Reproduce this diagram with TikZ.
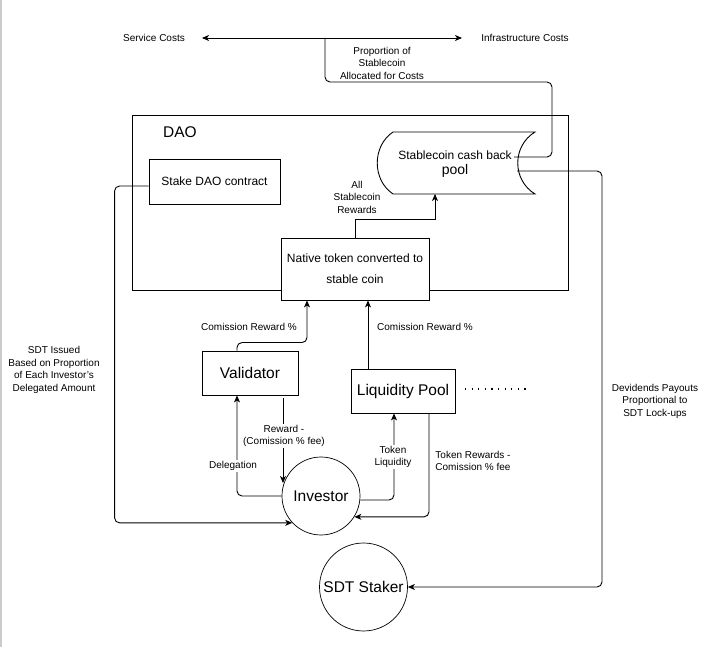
\documentclass[tikz,border=0pt]{standalone}
\usepackage{fontspec}
\setmainfont{Liberation Sans}
\usetikzlibrary{arrows.meta,calc}
\begin{document}
\begin{tikzpicture}[x=1pt,y=-1pt,
  line width=0.9pt,
  small/.style={font=\fontsize{10}{12.5}\selectfont, align=center, inner sep=1pt},
  midtext/.style={font=\fontsize{12}{14}\selectfont, align=center},
  bigtext/.style={font=\fontsize{15.5}{18}\selectfont},
  box/.style={draw, fill=white, inner sep=0pt, line width=0.9pt},
  circ/.style={draw, circle, fill=white, inner sep=0pt, line width=0.7pt},
  conn/.style={line width=0.9pt, rounded corners=5pt},
  tip/.style={-{Stealth[length=7pt,width=6pt,inset=2pt]}},
  lbl/.style={small, fill=white}
]
\useasboundingbox (0,0) rectangle (724,647);
\fill[white] (0,0) rectangle (724,647);
\draw[gray!40, line width=1.5pt] (0.75,0) -- (0.75,647);

% top costs
\node[small] (svc) at (154,38) {Service Costs};
\node[small] (infra) at (525,38) {Infrastructure Costs};
\coordinate (cl) at (202,38);
\coordinate (cr) at (462,38);
\coordinate (cm) at (325,38);
\draw[{Stealth[length=7pt,width=6pt,inset=2pt]}-{Stealth[length=7pt,width=6pt,inset=2pt]}] (cl) -- (cr);
\node[small] (prop) at (382,63) {Proportion of\\Stablecoin\\Allocated for Costs};

% DAO container
\draw (132,115) rectangle (568,290);
\node[bigtext] (daolbl) at (180,132) {DAO};
\node[box, minimum width=131pt, minimum height=45pt, midtext] (stake) at (214.5,181.5) {Stake DAO contract};

% stablecoin pool (data storage shape)
\draw[fill=white] (393,132) -- (535,132)
  .. controls (512,146) and (512,180) .. (535,194)
  -- (393,194)
  .. controls (372,180) and (372,146) .. (393,132) -- cycle;
\node[align=center, inner sep=0pt] (pool) at (455,164)
  {\fontsize{12}{14}\selectfont Stablecoin cash back\\[3pt]\fontsize{14}{16}\selectfont pool};
\coordinate (poolcost) at (514,157);
\coordinate (pooldiv) at (517,171);
\coordinate (poolbot) at (435,194);

% native token box
\node[box, minimum width=148pt, minimum height=62pt, align=center,
  font=\fontsize{12}{21}\selectfont] (native) at (355,269) {Native token converted to\\stable coin};

% all stablecoin rewards
\draw[tip] (native.north) -- ++(0,-18) -| (poolbot);
\node[small] (allrew) at (357,197) {All\\Stablecoin\\Rewards};

% cost connector
\draw[conn] (poolcost) -- ++(38,0) -- ++(0,-75) -| (cm);

% validator, liquidity pool
\node[box, minimum width=96pt, minimum height=44pt, bigtext] (validator) at (250,373) {Validator};
\node[box, minimum width=104pt, minimum height=44pt, bigtext] (lp) at (403,391) {Liquidity Pool};
\coordinate (dotsa) at (465,389);
\coordinate (dotsb) at (528,389);
\draw[line width=1.3pt, dash pattern=on 1.2pt off 5.4pt] (dotsa) -- (dotsb);

% investor, staker
\node[circ, minimum size=78pt, bigtext] (investor) at (321,496) {Investor};
\node[circ, minimum size=88pt, bigtext] (staker) at (363.5,587) {SDT Staker};

% validator -> native
\draw[conn, tip] ([xshift=-13pt]validator.north) -- ++(0,-8) -| ([xshift=-48pt]native.south);
\node[small] (cr1) at (249,327) {Comission Reward \%};
% lp -> native
\draw[tip] ([xshift=-35pt]lp.north) -- ([xshift=13pt]native.south);
\node[small] (cr2) at (425,327) {Comission Reward \%};

% validator -> investor
\draw[tip] ([xshift=33pt,yshift=-3pt]validator.south) -- ([xshift=-38pt,yshift=13pt]investor.center);
\node[lbl] (rew) at (284,436) {Reward -\\(Comission \% fee)};

% investor -> validator (delegation)
\draw[conn, tip] (investor.west) -| ([xshift=-13pt]validator.south);
\node[lbl] (deleg) at (233,466) {Delegation};

% investor -> lp
\draw[conn, tip] ([yshift=-4pt]investor.east) -| ([xshift=-9pt]lp.south);
\node[lbl] (tokliq) at (393,457) {Token\\Liquidity};

% lp -> investor
\draw[conn, tip] ([xshift=26pt]lp.south) |- (investor.-32.6);
\node[small, anchor=west, align=left] (tokrew) at (434,461) {Token Rewards -\\Comission \% fee};

% stake -> investor
\draw[conn, tip] ([yshift=-4.5pt]stake.west) -- ++(-34,0) |- (investor.223);
\node[small] (sdtiss) at (54,370) {SDT Issued\\Based on Proportion\\of Each Investor's\\Delegated Amount};

% pool -> staker
\draw[conn, tip] (pooldiv) -- ++(85,0) |- (staker.east);
\node[small] (div) at (655,401) {Devidends Payouts\\Proportional to\\SDT Lock-ups};
\end{tikzpicture}
\end{document}
